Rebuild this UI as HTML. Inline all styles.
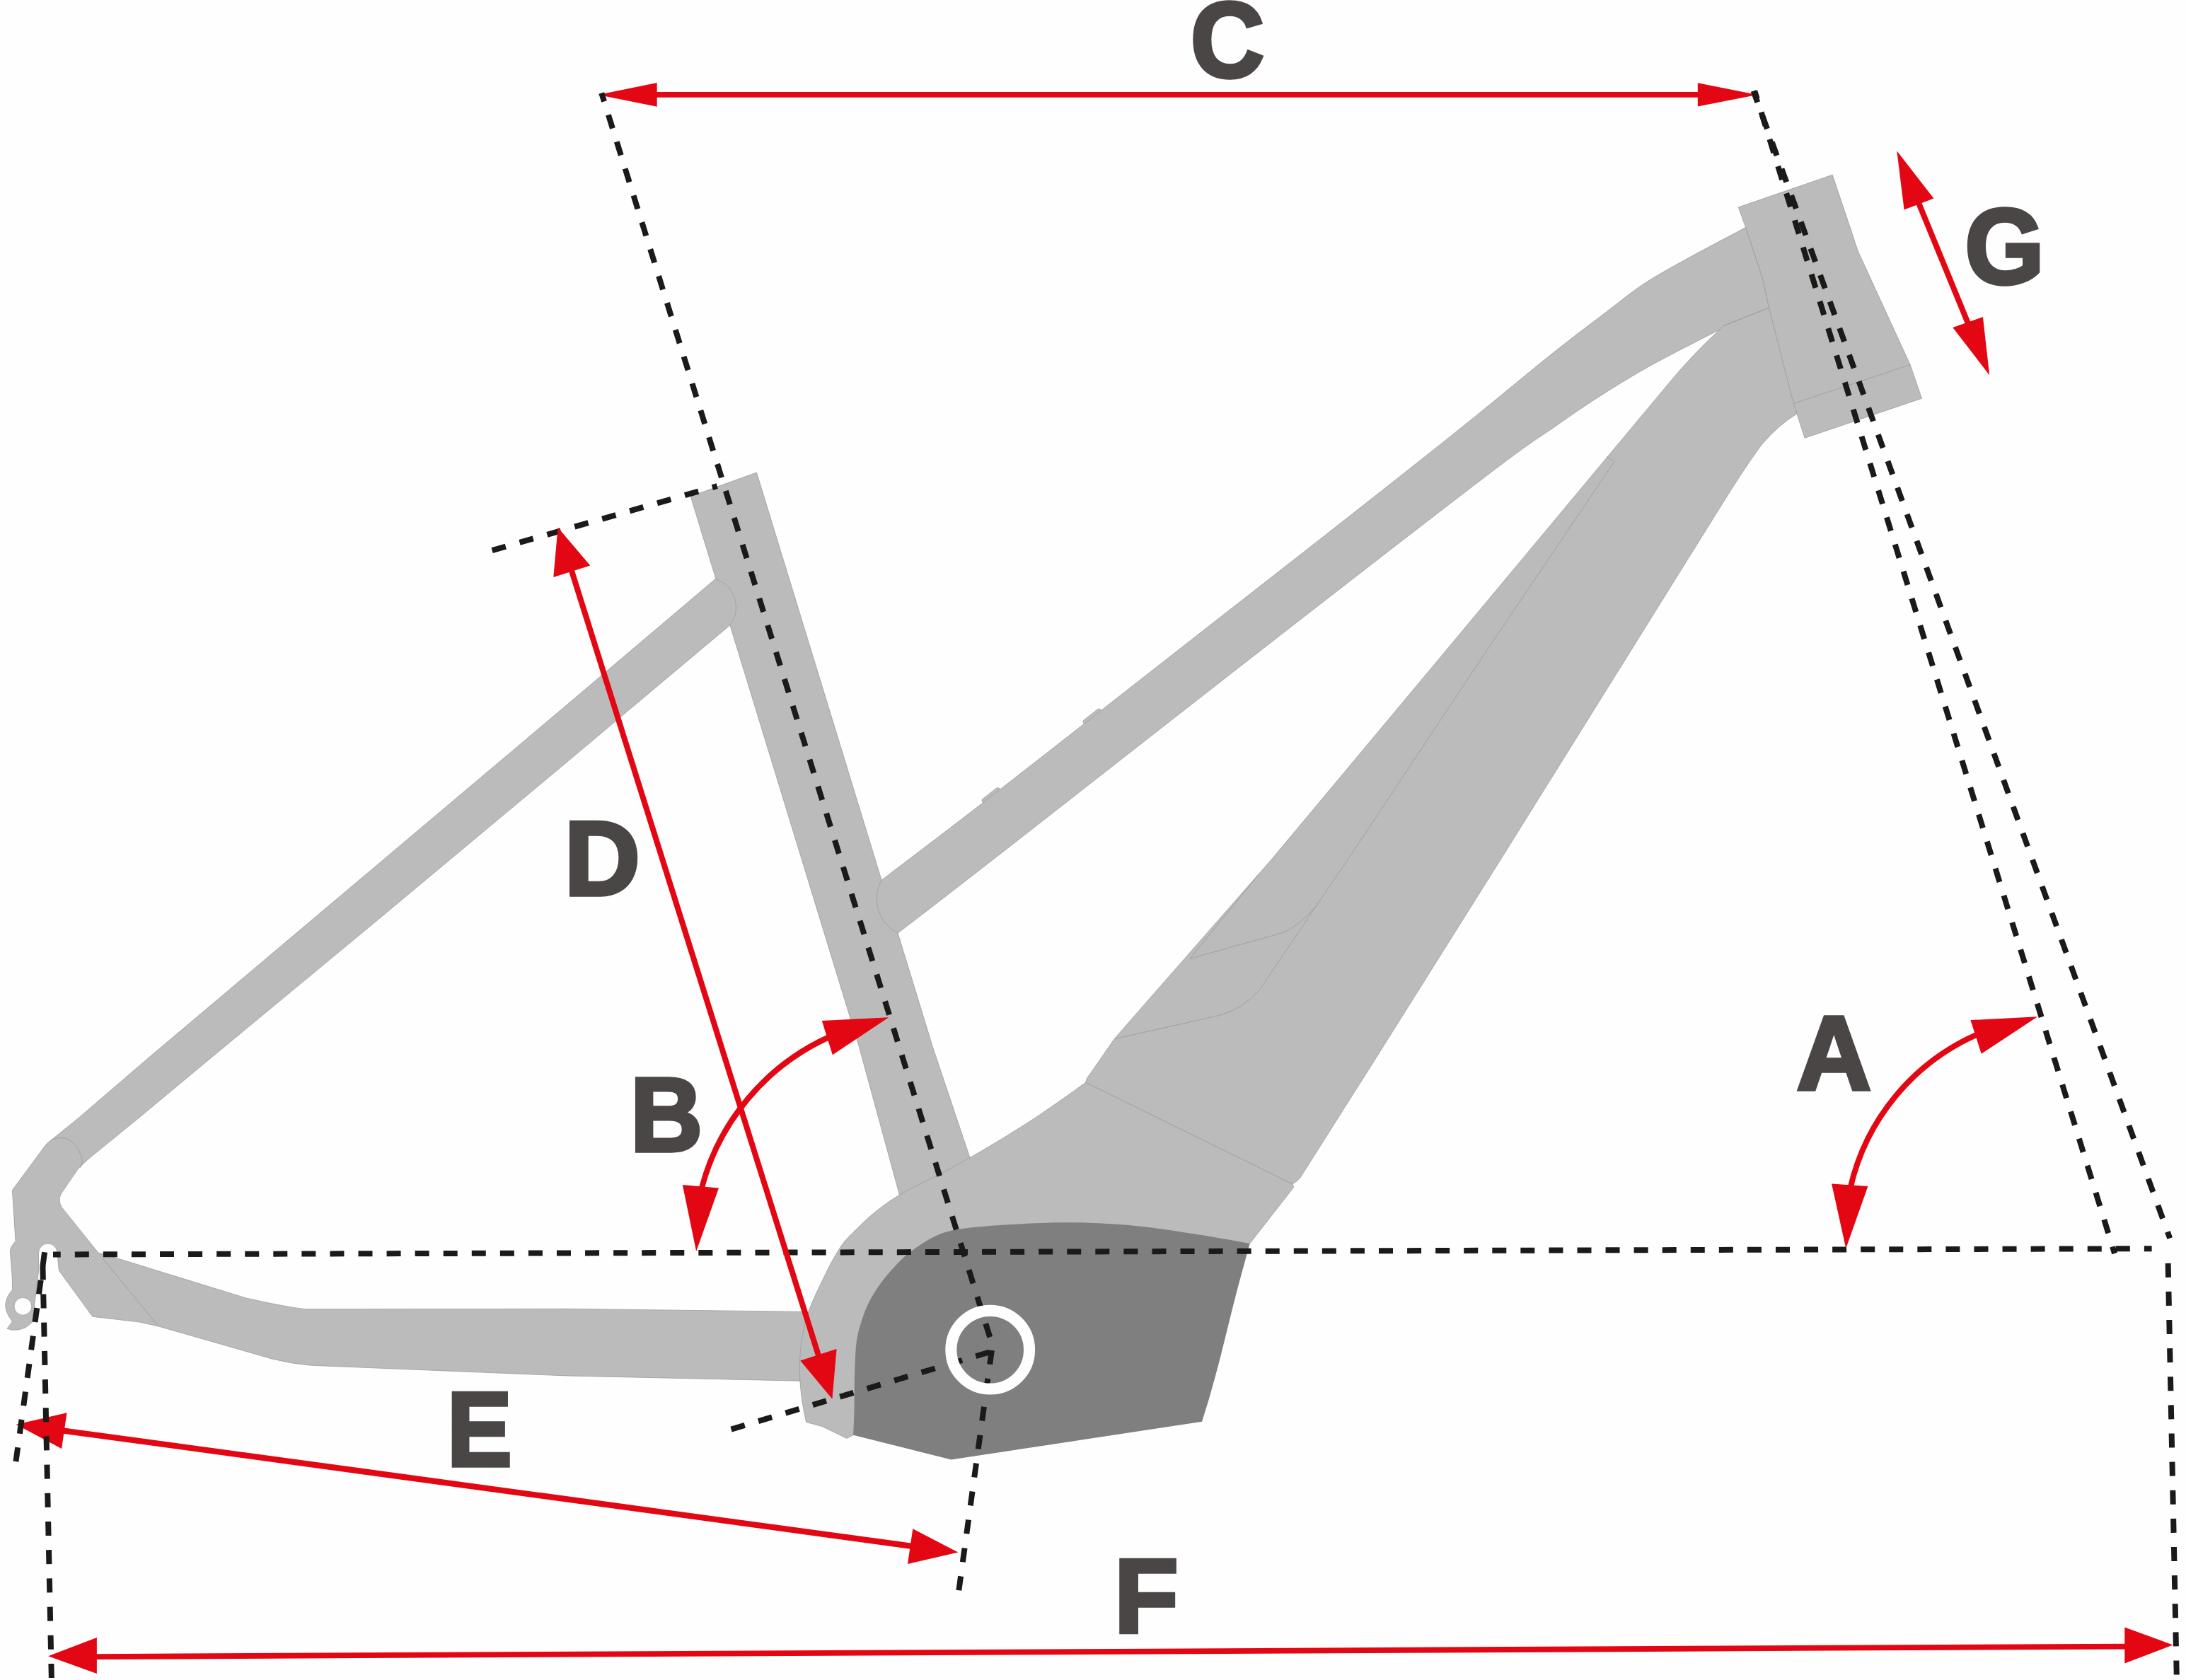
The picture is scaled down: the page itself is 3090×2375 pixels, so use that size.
<!DOCTYPE html>
<html lang="en">
<head>
<meta charset="utf-8">
<title>Frame geometry</title>
<style>
html,body{margin:0;padding:0;background:#fefefe;}
body{width:3090px;height:2375px;overflow:hidden;}
svg{display:block;}
text{font-family:"Liberation Sans",sans-serif;font-weight:700;fill:#4a4646;}
.f{fill:#bbbbbb;stroke:#9c9c9c;stroke-width:0.8;stroke-linejoin:round;}
.m{fill:#807f80;stroke:none;}
.s{fill:none;stroke:#9c9c9c;stroke-width:0.9;stroke-linecap:round;stroke-linejoin:round;}
.d{fill:none;stroke:#1a1a18;stroke-width:8;stroke-dasharray:20 20;}
.r{fill:none;stroke:#e30613;}
.a{fill:#e30613;stroke:none;}
</style>
</head>
<body>
<svg width="3090" height="2375" viewBox="0 0 3090 2375">
<rect x="0" y="0" width="3090" height="2375" fill="#fefefe"/>
<polygon class="f" points="976.2,701.7 1069.5,668.0 1318.4,1480.0 1371.0,1636.7 1385.0,1680.0 1290.0,1760.0 1271.5,1689.3 1214.4,1480.0"/>
<path class="f" fill-rule="evenodd" d="M1011.4,818.3 L800,997.5 L468.7,1277.1 L206.9,1498 L111.6,1580 L73.2,1611.1 Q66,1616 62,1622 L17.4,1682.5 L22,1754.7 Q15,1762 14.3,1768.5 L17.4,1806.9 L17.4,1823.4 Q8,1834 7.7,1845.3 Q8,1856 17.4,1868.2 L10,1878.3 Q22,1883 36.6,1876.4 L45.7,1869.1 L54.6,1796 L54.5,1771.2 A13.2,13.2 0 0 1 80.9,1771.2 L83.3,1795.9 L87.8,1802.3 L130.8,1861.2 L197.6,1869.1 L224.2,1875 L384.4,1921 Q412,1928 439.4,1930.2 L800,1944.9 L1131.4,1952.2 L1140.5,1854.4 L800,1850.3 L432,1850.8 Q400,1847 347.8,1835 L164.7,1778.5 L139.1,1771.2 L86.9,1706.3 Q82,1697 86,1688 L109.8,1653.2 Q122,1640 137.2,1628.5 L196.7,1580 L292.9,1500 L530.9,1303 L800,1078.5 L1032,883.7 A42.2,42.2 0 0 0 1011.4,818.3 Z M44.8,1846.8 a12.4,12.4 0 1 0 -24.8,0 a12.4,12.4 0 1 0 24.8,0 Z"/>
<path class="f" d="M1389,1129.5 L1408.5,1114.2 Q1411,1112.6 1412.6,1114.6 L1417,1120.5 L1392.5,1139.5 L1388.2,1132.8 Q1387.4,1130.8 1389,1129.5 Z"/>
<path class="f" d="M1532,1018 L1551.5,1002.7 Q1554,1001.1 1555.6,1003.1 L1560,1009 L1535.5,1028 L1531.2,1021.3 Q1530.4,1019.3 1532,1018 Z"/>
<path class="f" d="M1245.5,1244.7 C1271.2,1225.0 1324.2,1185.4 1400.0,1126.6 C1475.8,1067.8 1616.7,957.2 1700.0,892.0 C1783.3,826.8 1838.6,783.9 1900.0,735.6 C1961.4,687.4 2019.5,641.5 2068.2,602.5 C2116.9,563.5 2157.6,528.9 2192.0,501.5 C2226.4,474.1 2252.5,454.8 2274.5,438.0 C2296.5,421.2 2305.7,413.0 2324.0,401.0 C2342.3,389.0 2360.4,379.2 2384.3,366.0 C2408.2,352.8 2453.7,328.9 2467.6,321.5 L2491.4,392.9 L2500.5,435 C2490.3,439.5 2459.0,452.8 2439.6,462.0 C2420.2,471.2 2403.3,480.0 2384.0,490.0 C2364.7,500.0 2344.7,510.2 2324.0,522.0 C2303.3,533.8 2280.7,547.7 2260.0,561.0 C2239.3,574.3 2226.2,583.4 2200.0,601.8 C2173.8,620.2 2171.4,619.3 2102.7,671.5 C2034.0,723.7 1903.2,825.3 1787.9,915.0 C1672.6,1004.7 1497.5,1142.1 1411.0,1209.5 C1324.5,1276.9 1292.5,1301.2 1268.8,1319.5 A55.6,55.6 0 0 1 1245.5,1244.7 Z"/>
<path class="f" d="M2436.5,460.6 Q2395,498 2359,541.7 L2047.8,915 L1797.3,1215 L1580,1463 L1573.9,1470.5 L1541,1518.1 Q1535.5,1524 1534.6,1530.3 L1827,1673.9 Q1834,1670 1838,1664.8 L1942.3,1500 L2121.3,1215 L2200,1088.8 L2432.8,715 Q2470,655 2491.4,627.2 Q2515,600 2540,585 L2500.5,435 Z"/>
<path class="f" d="M2457.3,293 L2590.2,247.2 L2619.5,334.3 Q2623,346 2626.9,356.3 L2700.1,515.6 L2716.5,563.2 L2551.1,619.2 L2535.3,570.5 L2500.5,435 Q2496,412 2491.4,392.9 L2467.6,321.5 Z"/>
<path class="f" d="M1534.6,1530.3 C1527.2,1535.6 1505.2,1551.5 1490.0,1562.0 C1474.8,1572.5 1462.9,1580.8 1443.1,1593.2 C1423.3,1605.7 1391.5,1624.9 1371.0,1636.7 C1350.5,1648.5 1336.6,1655.2 1320.0,1664.0 C1303.4,1672.8 1285.3,1681.1 1271.5,1689.3 C1257.7,1697.5 1247.5,1705.1 1237.2,1713.3 C1226.9,1721.5 1217.4,1731.0 1209.8,1738.5 C1202.2,1746.0 1197.2,1750.4 1191.5,1758.0 C1185.8,1765.6 1180.1,1776.0 1175.5,1784.2 C1170.9,1792.4 1168.1,1798.7 1164.0,1807.1 C1159.9,1815.5 1155.1,1825.0 1151.0,1834.5 C1146.9,1844.0 1142.6,1852.9 1139.5,1864.3 C1136.4,1875.7 1133.8,1890.2 1132.3,1902.7 C1130.8,1915.2 1130.2,1927.2 1130.4,1939.4 C1130.6,1951.6 1131.7,1964.2 1133.2,1976.0 C1134.7,1987.8 1138.5,2004.7 1139.5,2010.4 L1162.2,2016.6 L1197,2033.4 L1206.1,2028.7 L1400,2000 L1766.6,1758.1 L1828.8,1678.3 L1827,1673.9 Z"/>
<path class="m" d="M1766.6,1758.1 C1761.5,1757.1 1749.7,1754.7 1735.8,1752.3 C1721.9,1749.9 1705.2,1746.9 1683.4,1743.7 C1661.6,1740.5 1633.4,1735.6 1604.8,1733.0 C1576.2,1730.4 1542.5,1728.4 1511.7,1728.2 C1480.9,1728.0 1446.9,1729.9 1420.2,1731.6 C1393.5,1733.3 1368.8,1735.5 1351.6,1738.5 C1334.4,1741.5 1328.7,1744.2 1317.3,1749.9 C1305.9,1755.6 1292.5,1765.2 1283.0,1772.8 C1273.5,1780.4 1267.0,1788.0 1260.1,1795.6 C1253.2,1803.2 1247.1,1810.9 1241.8,1818.5 C1236.5,1826.1 1231.9,1833.8 1228.1,1841.4 C1224.3,1849.0 1221.8,1855.4 1218.9,1864.3 C1216.1,1873.2 1212.8,1882.5 1211.0,1895.0 C1209.2,1907.5 1208.8,1922.9 1208.2,1939.4 C1207.6,1956.0 1207.8,1979.4 1207.5,1994.3 C1207.2,2009.2 1206.3,2023.0 1206.1,2028.7 L1344.5,2063.5 L1699.1,2009.7 C1700.8,2004.0 1705.2,1990.6 1709.6,1975.3 C1714.0,1960.0 1719.2,1941.3 1725.3,1917.7 C1731.4,1894.1 1739.3,1860.4 1746.2,1833.8 C1753.1,1807.2 1763.2,1770.7 1766.6,1758.1 Z"/>
<path class="s" d="M73.2,1611.1 Q103,1600 115,1635 Q118,1645 113.5,1650.5"/>
<path class="s" d="M144.6,1778.5 L224.2,1875"/>
<path class="s" d="M2271.2,646 L2282.2,652.2 L2104.6,915 L1905.3,1215 L1859.5,1282 L1780.8,1399 Q1755,1428 1722.2,1435.7 L1575.7,1468.7"/>
<path class="s" d="M1780.8,1234.3 L1682,1355.2 L1813.7,1318.5 Q1835,1310 1859.5,1282"/>
<path class="s" d="M2535.3,570.5 L2700.1,515.6"/>
<path class="s" d="M2436.5,460.6 L2500.5,435"/>
<path class="d" style="stroke-width:8;stroke-dasharray:20.00 20.07;stroke-dashoffset:9.27" d="M75.0,1773.5 L3041.6,1765.2"/>
<path class="d" style="stroke-width:8;stroke-dasharray:20.00 20.47;stroke-dashoffset:38.19" d="M693.4,778.7 L1013.7,687.1"/>
<path class="d" style="stroke-width:8;stroke-dasharray:20.00 20.10;stroke-dashoffset:36.26" d="M1029.9,2021.7 L1408.5,1908.5"/>
<polygon class="a" points="845.3,134.1 928.7,117.0 928.7,150.8"/>
<polygon class="a" points="2484.0,133.9 2399.8,117.2 2399.8,150.5"/>
<path class="r" style="stroke-width:7.8" d="M925.0,133.9 L2403.0,133.9"/>
<polygon class="a" points="2681.3,213.2 2691.6,296.6 2733.4,280.6"/>
<polygon class="a" points="2812.2,530.4 2760.3,463.0 2802.9,448.0"/>
<path class="r" style="stroke-width:8" d="M2711.5,285.5 L2782.7,459.0"/>
<polygon class="a" points="788.6,745.7 782.3,816.0 834.3,799.5"/>
<polygon class="a" points="1176.4,1977.8 1131.3,1923.6 1182.6,1907.1"/>
<path class="r" style="stroke-width:8" d="M807.4,805.0 L1157.7,1918.5"/>
<polygon class="a" points="22.7,2013.7 94.5,1997.2 87.1,2048.1"/>
<polygon class="a" points="1354.3,2194.5 1290.3,2161.2 1283.0,2210.9"/>
<path class="r" style="stroke-width:8.3" d="M88.0,2022.3 L1289.0,2185.8"/>
<polygon class="a" points="68.1,2341.2 136.9,2315.0 136.9,2365.9"/>
<polygon class="a" points="3071.5,2325.5 3003.3,2300.4 3003.3,2351.6"/>
<path class="r" style="stroke-width:7.8" d="M134.0,2342.1 L3006.0,2327.6"/>
<path class="d" style="stroke-width:8;stroke-dasharray:20.00 20.20;stroke-dashoffset:20.90" d="M60.0,1770.0 L72.9,2375.0"/>
<path class="d" style="stroke-width:8;stroke-dasharray:20.00 19.80;stroke-dashoffset:0.00" d="M63.1,1770.3 L22.0,2069.3"/>
<path class="d" style="stroke-width:8;stroke-dasharray:20.00 20.13;stroke-dashoffset:29.33" d="M3064.4,1775.0 L3076.9,2375.0"/>
<path class="d" style="stroke-width:8;stroke-dasharray:20.00 19.97;stroke-dashoffset:8.47" d="M2480.3,128.6 L2989.1,1772.0"/>
<path class="d" style="stroke-width:8;stroke-dasharray:20.00 19.97;stroke-dashoffset:2.93" d="M2478.5,128.6 L3067.2,1750.5"/>
<path class="d" style="stroke-width:8;stroke-dasharray:20.00 19.78;stroke-dashoffset:7.40" d="M850.3,131.5 L1404.0,1905.6"/>
<path class="d" style="stroke-width:8;stroke-dasharray:20.00 20.30;stroke-dashoffset:39.35" d="M1402.0,1908.0 L1355.1,2250.1"/>
<circle cx="1399.7" cy="1908.2" r="55.35" fill="none" stroke="#fefefe" stroke-width="16.1"/>
<polygon class="a" points="1256.3,1438.2 1161.8,1443.0 1176.8,1491.3"/>
<polygon class="a" points="984.2,1769.1 964.8,1675.0 1016.0,1679.4"/>
<path class="r" stroke-width="8" d="M1171,1466.5 A325,325 0 0 0 991.8,1680"/>
<polygon class="a" points="2880.2,1437.3 2785.4,1442.1 2800.8,1489.7"/>
<polygon class="a" points="2609.3,1765.0 2589.1,1673.5 2640.4,1677.1"/>
<path class="r" stroke-width="8" d="M2796,1461.8 A313.7,313.7 0 0 0 2615.6,1679"/>
<text transform="matrix(0.9281,0,0,0.9666,1682.95,109.19)" x="0" y="0" font-size="155" stroke="#4a4646" stroke-width="5.6" stroke-linejoin="miter">C</text>
<text transform="matrix(0.9297,0,0,0.9683,2777.45,401.08)" x="0" y="0" font-size="155" stroke="#4a4646" stroke-width="5.6" stroke-linejoin="miter">G</text>
<text transform="matrix(0.9558,0,0,0.9559,797.83,1265.27)" x="0" y="0" font-size="155" stroke="#4a4646" stroke-width="5.6" stroke-linejoin="miter">D</text>
<text transform="matrix(0.9127,0,0,0.9559,891.05,1626.77)" x="0" y="0" font-size="155" stroke="#4a4646" stroke-width="5.6" stroke-linejoin="miter">B</text>
<text transform="matrix(0.8863,0,0,0.9550,631.95,2072.27)" x="0" y="0" font-size="155" stroke="#4a4646" stroke-width="5.6" stroke-linejoin="miter">E</text>
<text transform="matrix(0.9387,0,0,0.9568,2539.70,1540.37)" x="0" y="0" font-size="155" stroke="#4a4646" stroke-width="5.6" stroke-linejoin="miter">A</text>
<text transform="matrix(0.9567,0,0,0.9550,1575.12,2307.57)" x="0" y="0" font-size="155" stroke="#4a4646" stroke-width="5.6" stroke-linejoin="miter">F</text>
</svg>
</body>
</html>
